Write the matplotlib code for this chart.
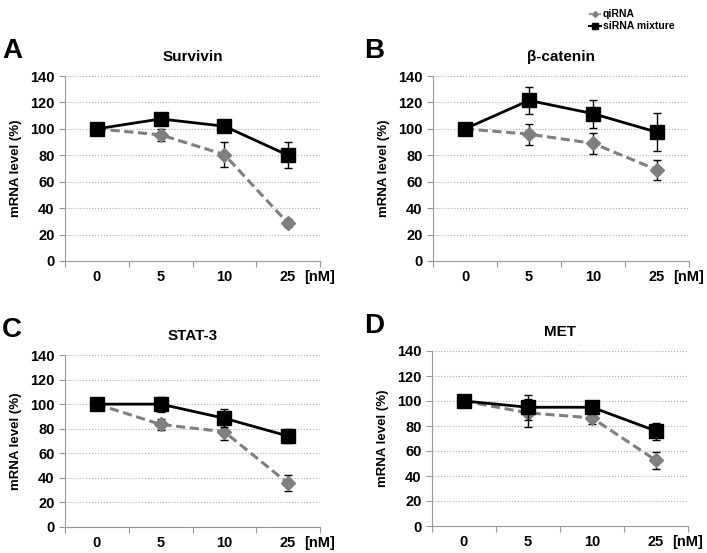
import matplotlib.pyplot as plt
from matplotlib.lines import Line2D
import numpy as np

plt.rcParams['font.family'] = ['Liberation Sans', 'DejaVu Sans']
plt.rcParams['font.weight'] = 'bold'
narrow = ['Liberation Sans Narrow', 'Liberation Sans', 'DejaVu Sans']

doses = ['0', '5', '10', '25']

# Survivin
surv_si = [100, 107.5, 102, 80]
surv_si_err = [0, 0, 0, 9.7]
surv_qi = [100, 95.5, 80.5, 28.5]
surv_qi_err = [0, 4.4, 9.7, 3]
# beta-catenin
bcat_si = [100, 121.5, 111.5, 97.5]
bcat_si_err = [0, 10, 10.5, 14.5]
bcat_qi = [100, 96, 89, 69]
bcat_qi_err = [0, 8, 8, 7.5]
# STAT-3
stat_si = [100, 100, 88.5, 74]
stat_si_err = [0, 6, 7.5, 6]
stat_qi = [100, 83.5, 77.5, 35.5]
stat_qi_err = [0, 4.5, 7, 6.5]
# MET
met_si = [100, 95, 95, 76]
met_si_err = [0, 10, 4, 6.8]
met_qi = [100, 90.5, 86.5, 52.5]
met_qi_err = [0, 11, 4.5, 7]

panels = [
    ('A', 'Survivin', surv_si, surv_si_err, surv_qi, surv_qi_err, [65, 76, 320, 261], 2),
    ('B', 'β-catenin', bcat_si, bcat_si_err, bcat_qi, bcat_qi_err, [433, 76, 689, 261], 364),
    ('C', 'STAT-3', stat_si, stat_si_err, stat_qi, stat_qi_err, [65, 355, 320, 527], 2),
    ('D', 'MET', met_si, met_si_err, met_qi, met_qi_err, [432, 351, 688, 526], 364),
]

W, H = 707, 553
fig = plt.figure(figsize=(W / 100, H / 100), dpi=100)

x = np.arange(len(doses))
for letter, title, si, si_err, qi, qi_err, box, lx in panels:
    l, t, r, b = box
    ax = fig.add_axes([l / W, 1 - b / H, (r - l) / W, (b - t) / H])
    ax.errorbar(x, qi, yerr=qi_err, color='#7f7f7f', ls=(0, (3, 1.5)), lw=2.2,
                marker='D', ms=7, ecolor='black', elinewidth=1, capsize=3, zorder=3)
    ax.errorbar(x, si, yerr=si_err, color='black', ls='-', lw=2,
                marker='s', ms=10, ecolor='black', elinewidth=1, capsize=3, zorder=4)
    ax.set_xlim(-0.5, 3.5)
    ax.set_ylim(0, 140)
    ax.set_yticks(np.arange(0, 141, 20))
    ax.set_xticks(np.arange(-0.5, 3.6, 1))
    ax.set_xticklabels([])
    for i, d in enumerate(doses):
        ax.text(i, -0.05, d, transform=ax.get_xaxis_transform(), ha='center', va='top',
                fontsize=10.5, fontweight='bold', family=narrow)
    ax.text(3.5, -0.05, '[nM]', transform=ax.get_xaxis_transform(), ha='center', va='top',
            fontsize=10.5, fontweight='bold', family=narrow)
    ax.tick_params(axis='both', length=4, color='#999999', labelsize=10.5)
    for lab in ax.get_yticklabels():
        lab.set_fontweight('bold')
        lab.set_family(narrow)
    ax.yaxis.grid(True, ls=':', color='#aaaaaa', lw=0.8)
    ax.set_axisbelow(True)
    for s in ['top', 'right']:
        ax.spines[s].set_visible(False)
    for s in ['left', 'bottom']:
        ax.spines[s].set_color('#999999')
    ax.set_ylabel('mRNA level (%)', fontsize=9.5, fontweight='bold', labelpad=6)
    ax.set_title(title, fontsize=11, fontweight='bold', pad=11)
    fig.text(lx / W, 1 - (t - 18) / H, letter, fontsize=20, fontweight='bold',
             ha='left', va='baseline')
    if letter == 'B':
        handles = [Line2D([], [], color='#7f7f7f', ls=(0, (2, 1)), lw=1.2, marker='D', ms=3),
                   Line2D([], [], color='black', lw=1.5, marker='s', ms=4)]
        fig.legend(handles, ['qiRNA', 'siRNA mixture'], loc='upper left',
                   bbox_to_anchor=(580 / W, 1.0), frameon=False, handlelength=1.1,
                   handletextpad=0.2, labelspacing=0.2, prop={'size': 7.5, 'weight': 'bold'})

fig.savefig('out.png', dpi=100)
